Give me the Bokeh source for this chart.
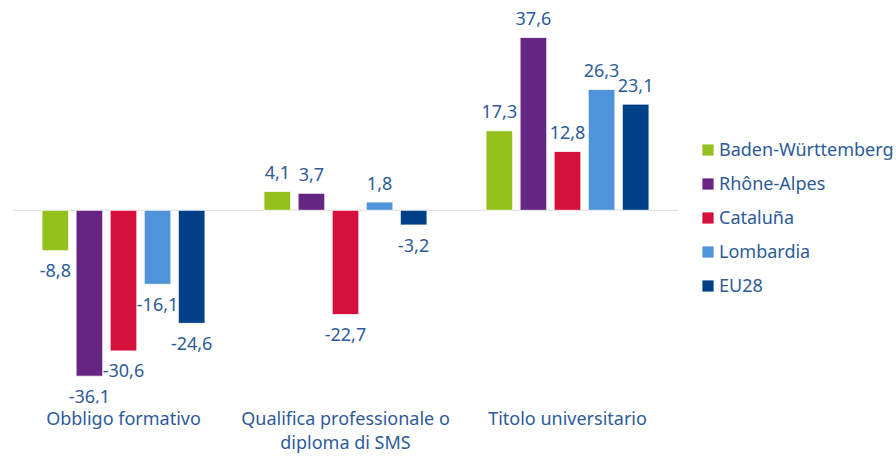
from bokeh.plotting import figure
from bokeh.models import ColumnDataSource, LabelSet, Legend, LegendItem, FixedTicker
from bokeh.core.properties import value
from bokeh.embed import file_html
from bokeh.resources import INLINE

categories = ["Obbligo formativo", "Qualifica professionale o\ndiploma di SMS", "Titolo universitario"]
series = ["Baden-Württemberg", "Rhône-Alpes", "Cataluña", "Lombardia", "EU28"]
colors = ["#95C11F", "#662483", "#D5103C", "#4F94DA", "#004088"]
baden = [-8.8, 4.1, 17.3]
rhone = [-36.1, 3.7, 37.6]
cataluna = [-30.6, -22.7, 12.8]
lombardia = [-16.1, 1.8, 26.3]
eu28 = [-24.6, -3.2, 23.1]
values = [baden, rhone, cataluna, lombardia, eu28]

FONT = "Noto Sans"
TXT = "#2D5B98"
pitch = 0.1535
bw = 0.12

p = figure(width=894, height=456, output_backend="svg", toolbar_location=None,
           x_range=(-0.5, 3.473), y_range=(-42.04, 45.65),
           min_border_left=12, min_border_right=0, min_border_top=0, min_border_bottom=0)
p.outline_line_color = None
p.xgrid.visible = False
p.ygrid.visible = False
p.yaxis.visible = False
p.background_fill_color = "white"

# baseline
p.segment(x0=[-0.5], x1=[len(categories) - 0.5], y0=[0], y1=[0], line_color="#DADADA", line_width=1)

items = []
for j, (name, col, vals) in enumerate(zip(series, colors, values)):
    xs = [i + (j - 2) * pitch for i in range(len(categories))]
    src = ColumnDataSource(dict(
        x=xs, top=vals,
        txt=[f"{v:.1f}".replace(".", ",") for v in vals],
        off=[19 if v >= 0 else -20 for v in vals],
    ))
    r = p.vbar(x="x", top="top", bottom=0, width=bw, source=src, fill_color=col,
               line_color="white", line_width=0.8)
    items.append(LegendItem(label=name, renderers=[r]))
    lab = LabelSet(x="x", y="top", text="txt", y_offset="off", source=src,
                   text_align="center", text_baseline="middle",
                   text_font=value(FONT), text_font_size="18px", text_color=TXT)
    p.add_layout(lab)

p.xaxis.ticker = FixedTicker(ticks=list(range(len(categories))))
p.xaxis.major_label_overrides = {i: c for i, c in enumerate(categories)}
p.xaxis.axis_line_color = None
p.xaxis.major_tick_line_color = None
p.xaxis.minor_tick_line_color = None
p.xaxis.major_tick_out = 0
p.xaxis.major_tick_in = 0
p.xaxis.major_label_standoff = 2
p.xaxis.major_label_text_font = FONT
p.xaxis.major_label_text_font_size = "18px"
p.xaxis.major_label_text_color = TXT
p.xaxis.major_label_text_line_height = 1.0

legend = Legend(items=items, location=(688, 106), orientation="vertical",
                glyph_width=15, glyph_height=15, label_standoff=4, spacing=10,
                padding=0, margin=0, border_line_color=None, background_fill_alpha=0,
                label_text_font=FONT, label_text_font_size="18px", label_text_color=TXT)
p.add_layout(legend)

open("out.html", "w").write(file_html(p, INLINE))
